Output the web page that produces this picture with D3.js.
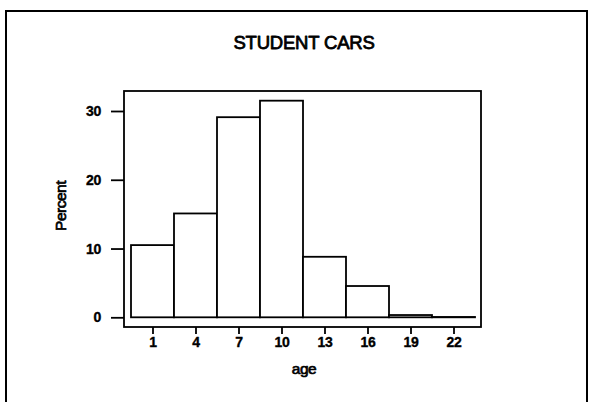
<!DOCTYPE html>
<html>
<head>
<meta charset="utf-8">
<script src="https://cdn.jsdelivr.net/npm/d3@7"></script>
<style>
  html, body { margin: 0; padding: 0; background: #fff; }
  svg { display: block; }
  text { font-family: "Liberation Sans", Arial, sans-serif; fill: #000; }
</style>
</head>
<body>
<svg id="chart" width="592" height="402"></svg>
<script>
// Histogram of student car ages: bins of width 3 centred on the tick values
const binCenters = [1, 4, 7, 10, 13, 16, 19, 22];
const percents = [10.5, 15.1, 29.1, 31.5, 8.8, 4.55, 0.33, 0.05];
const xTicks = [1, 4, 7, 10, 13, 16, 19, 22];
const yTicks = [0, 10, 20, 30];
const binWidth = 3;
const titleText = "STUDENT CARS";
const xLabel = "age";
const yLabel = "Percent";

const svg = d3.select("#chart");

// outer frame (runs off the bottom edge)
svg.append("rect")
  .attr("x", 6).attr("y", 11)
  .attr("width", 581).attr("height", 420)
  .attr("fill", "none").attr("stroke", "#000").attr("stroke-width", 2);

const box = { left: 124, right: 481, top: 91, bottom: 327 };

const x = d3.scaleLinear().domain([1, 22]).range([152.5, 453.5]);
const y = d3.scaleLinear().domain([0, 30]).range([317.3, 111]);

// bars
svg.append("g").selectAll("rect")
  .data(binCenters.map((c, i) => ({ c, v: percents[i] })))
  .join("rect")
  .attr("x", d => x(d.c - binWidth / 2))
  .attr("width", d => x(d.c + binWidth / 2) - x(d.c - binWidth / 2))
  .attr("y", d => y(d.v))
  .attr("height", d => y(0) - y(d.v))
  .attr("fill", "#fff")
  .attr("stroke", "#000")
  .attr("stroke-width", 1.8);

// plot box
svg.append("rect")
  .attr("x", box.left).attr("y", box.top)
  .attr("width", box.right - box.left).attr("height", box.bottom - box.top)
  .attr("fill", "none").attr("stroke", "#000").attr("stroke-width", 1.8);

// shared look for the heavy labels
function heavy(sel, size, weight, sw) {
  sel.style("font-size", size + "px")
    .style("font-weight", weight)
    .attr("fill", "#000")
    .attr("stroke", "#000")
    .attr("stroke-width", sw)
    .attr("stroke-linejoin", "round");
}

// y axis
const yAxis = svg.append("g")
  .attr("transform", `translate(${box.left},0)`)
  .call(d3.axisLeft(y).tickValues(yTicks).tickSize(13).tickPadding(10).tickFormat(d3.format("d")));
yAxis.select(".domain").remove();
yAxis.selectAll(".tick line").attr("stroke", "#000").attr("stroke-width", 1.8);
yAxis.selectAll(".tick text").call(heavy, 14, "bold", 0.35).style("letter-spacing", "-0.3px");

// x axis
const xAxis = svg.append("g")
  .attr("transform", `translate(0,${box.bottom})`)
  .call(d3.axisBottom(x).tickValues(xTicks).tickSize(7).tickPadding(3).tickFormat(d3.format("d")));
xAxis.select(".domain").remove();
xAxis.selectAll(".tick line").attr("stroke", "#000").attr("stroke-width", 1.8);
xAxis.selectAll(".tick text").call(heavy, 14, "bold", 0.35).style("letter-spacing", "-0.3px");

// title and axis labels
svg.append("text")
  .attr("x", 304).attr("y", 49)
  .attr("text-anchor", "middle")
  .style("letter-spacing", "-0.2px")
  .text(titleText)
  .call(heavy, 18.5, "normal", 0.8);

svg.append("text")
  .attr("x", 304).attr("y", 374)
  .attr("text-anchor", "middle")
  .style("letter-spacing", "-0.5px")
  .text(xLabel)
  .call(heavy, 15.5, "normal", 0.7);

svg.append("text")
  .attr("transform", "translate(66,206) rotate(-90)")
  .attr("text-anchor", "middle")
  .style("letter-spacing", "-0.5px")
  .text(yLabel)
  .call(heavy, 15.5, "normal", 0.7);
</script>
</body>
</html>
